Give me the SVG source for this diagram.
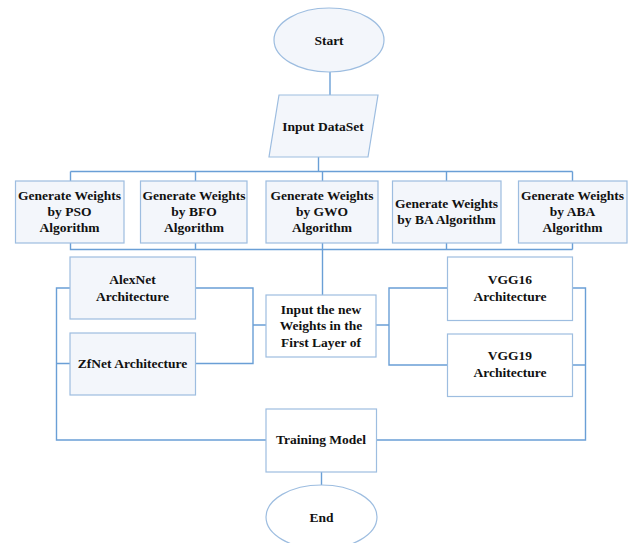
<svg xmlns="http://www.w3.org/2000/svg" width="632" height="543" viewBox="0 0 632 543">
<style>
.n{fill:#f3f6fb;stroke:#9dbde0;stroke-width:1.2}
.w{fill:#ffffff;stroke:#9dbde0;stroke-width:1.2}
.c{fill:none;stroke:#6a9fd6;stroke-width:1.4}
text{font-family:"Liberation Serif","Times New Roman",serif;font-weight:bold;font-size:13.5px;fill:#111;text-anchor:middle}
</style>
<rect width="632" height="543" fill="#ffffff"/>
<g id="connectors">
<path class="c" d="M330 72V95"/>
<path class="c" d="M318.5 157V171.5"/>
<path class="c" d="M70.5 171.5H572.5M70.5 171.5V181M195.5 171.5V181M322.5 171.5V181M446.5 171.5V181M572.5 171.5V181"/>
<path class="c" d="M70.5 243V249.5H572.5M195.5 243V249.5M322.5 243V249.5M446.5 243V249.5M572.5 243V249.5"/>
<path class="c" d="M322.5 249.5V295"/>
<path class="c" d="M195.5 288H253V363.5H195.5M253 325H266"/>
<path class="c" d="M70 288H56.5V440H266M56.5 363.5H70"/>
<path class="c" d="M376 325H389M447.5 288H389V365H447.5"/>
<path class="c" d="M572.5 288H585.5V440H376M572.5 365H585.5"/>
<path class="c" d="M321.5 472V485"/>
</g>
<g id="start"><ellipse class="n" cx="329" cy="40" rx="55" ry="32"/><text x="329" y="45">Start</text></g>
<g id="input-dataset"><polygon class="n" points="279,95 378,95 368,157 269,157"/><text x="323" y="131">Input DataSet</text></g>
<g id="pso"><rect class="n" x="15.5" y="181" width="108.5" height="62"/><text x="69.5" y="200">Generate Weights</text><text x="69.5" y="216">by PSO</text><text x="69.5" y="232">Algorithm</text></g>
<g id="bfo"><rect class="n" x="140.5" y="181" width="106.5" height="62"/><text x="194" y="200">Generate Weights</text><text x="194" y="216">by BFO</text><text x="194" y="232">Algorithm</text></g>
<g id="gwo"><rect class="n" x="266" y="181" width="112" height="62"/><text x="322" y="200">Generate Weights</text><text x="322" y="216">by GWO</text><text x="322" y="232">Algorithm</text></g>
<g id="ba"><rect class="n" x="392.5" y="181" width="108.5" height="62"/><text x="446.5" y="208">Generate Weights</text><text x="446.5" y="224">by BA Algorithm</text></g>
<g id="aba"><rect class="n" x="518.5" y="181" width="108.5" height="62"/><text x="572.5" y="200">Generate Weights</text><text x="572.5" y="216">by ABA</text><text x="572.5" y="232">Algorithm</text></g>
<g id="alexnet"><rect class="n" x="70" y="257" width="125.5" height="62"/><text x="132.5" y="284">AlexNet</text><text x="132.5" y="301">Architecture</text></g>
<g id="zfnet"><rect class="n" x="70" y="333" width="125.5" height="62"/><text x="132.5" y="368">ZfNet Architecture</text></g>
<g id="input-weights"><rect class="w" x="266" y="295" width="110" height="62"/><text x="321" y="314">Input the new</text><text x="321" y="330">Weights in the</text><text x="321" y="347">First Layer of</text></g>
<g id="vgg16"><rect class="w" x="447.5" y="257" width="125" height="63.5"/><text x="510" y="284">VGG16</text><text x="510" y="301">Architecture</text></g>
<g id="vgg19"><rect class="w" x="447.5" y="334" width="125" height="62.5"/><text x="510" y="360">VGG19</text><text x="510" y="377">Architecture</text></g>
<g id="training"><rect class="w" x="266" y="409" width="110.5" height="63"/><text x="321" y="444">Training Model</text></g>
<g id="end"><ellipse class="w" cx="321.5" cy="517" rx="55.5" ry="32"/><text x="321.5" y="522">End</text></g>
</svg>
